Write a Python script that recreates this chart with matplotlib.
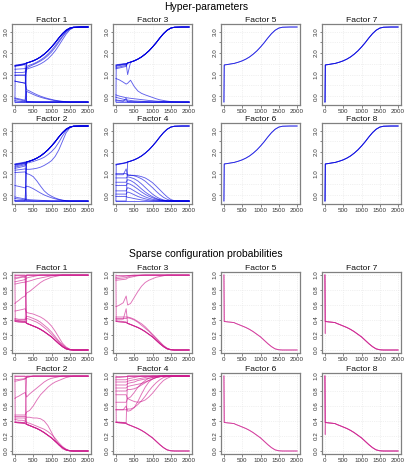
import numpy as np
import matplotlib
matplotlib.use('Agg')
import matplotlib.pyplot as plt
from matplotlib.ticker import FuncFormatter

plt.rcParams['font.family'] = ['Liberation Sans', 'DejaVu Sans']

# iteration grid shared by every trajectory
X = [0, 8, 15, 100, 200, 280, 320, 400, 500, 600, 700, 800, 900, 1000,
     1100, 1200, 1300, 1400, 1500, 1600, 1800, 2000]

# common tails (x = 320 ... 2000)
HT = [1.54, 1.58, 1.64, 1.72, 1.82, 1.95, 2.10, 2.28, 2.48, 2.70, 2.90, 3.06, 3.16, 3.20, 3.21, 3.21]
BT = [-0.27] * 16
PT = [0.355, 0.34, 0.32, 0.30, 0.275, 0.245, 0.21, 0.175, 0.13, 0.085, 0.045, 0.015, 0.003, 0.0, 0.0, 0.0]
TT = [1.0] * 16

# ---- hyper-parameters ----
hyp_f1 = [
    [1.42, 1.42, 1.43, 1.45, 1.48, 1.51] + HT,
    [1.40, 1.40, 1.41, 1.43, 1.46, 1.49] + HT,
    [1.43, 1.43, 1.44, 1.46, 1.49, 1.52] + HT,
    [1.38, 1.38, 1.39, 1.41, 1.44, 1.47] + BT,
    [-0.27, 1.40, 1.41, 1.43, 1.46, 1.50] + HT,
    [0.96, 0.96, 0.96, 0.97, 0.98, 0.98] + [1.25, 1.30, 1.36, 1.42, 1.50, 1.60, 1.73, 1.90, 2.10, 2.35, 2.62, 2.88, 3.08, 3.18, 3.21, 3.21],
    [1.10, 1.10, 1.10, 1.10, 1.10, 1.12] + [1.38, 1.44, 1.50, 1.58, 1.68, 1.80, 1.95, 2.13, 2.34, 2.57, 2.80, 3.00, 3.13, 3.19, 3.21, 3.21],
    [1.25, 1.25, 1.25, 1.26, 1.27, 1.28] + [1.30, 1.38, 1.46, 1.54, 1.63, 1.74, 1.88, 2.05, 2.26, 2.50, 2.75, 2.97, 3.12, 3.19, 3.21, 3.21],
    [0.70, 0.70, 0.69, 0.66, 0.63, 0.60] + [0.30, 0.24, 0.15, 0.07, 0.0, -0.06, -0.11, -0.15, -0.19, -0.22, -0.24, -0.26, -0.27, -0.27, -0.27, -0.27],
    [-0.08, -0.08, -0.09, -0.12, -0.16, -0.19] + [0.22, 0.16, 0.08, 0.01, -0.05, -0.10, -0.14, -0.18, -0.21, -0.23, -0.25, -0.26, -0.27, -0.27, -0.27, -0.27],
    [-0.12, -0.12, -0.13, -0.16, -0.20, -0.22] + [-0.24, -0.25, -0.26] + [-0.27] * 13,
    [-0.20, -0.20, -0.21, -0.23, -0.25, -0.26] + BT,
    [-0.27] * 6 + HT,
    [-0.27] * 6 + BT,
    [0.98, 0.98, 0.98, 0.98, 0.97, 0.97] + BT,
    [0.70, 0.70, 0.69, 0.66, 0.63, 0.60] + HT,
]

hyp_f3 = [
    [1.43, 1.43, 1.44, 1.46, 1.49, 1.51] + HT,
    [1.38, 1.38, 1.39, 1.42, 1.45, 1.48] + HT,
    [1.32, 1.32, 1.33, 1.36, 1.40, 1.43] + HT,
    [1.27, 1.27, 1.28, 1.31, 1.35, 1.38] + HT,
    [1.45, 1.45, 1.46, 1.48, 1.50, 1.50] + [1.0] + HT[1:],
    [0.82, 0.82, 0.81, 0.75, 0.65, 0.56] + [0.60, 0.74, 0.45, 0.24, 0.13, 0.06, 0.0, -0.06, -0.12, -0.17, -0.20, -0.23, -0.25, -0.26, -0.27, -0.27],
    [0.06, 0.06, 0.05, 0.0, -0.04, -0.07] + [-0.08, -0.10, -0.12, -0.14, -0.16, -0.18, -0.20, -0.21, -0.23, -0.24, -0.25, -0.26, -0.27, -0.27, -0.27, -0.27],
    [-0.05, -0.05, -0.06, -0.10, -0.14, -0.17] + [-0.18, -0.20, -0.22, -0.23, -0.24, -0.25, -0.26] + [-0.27] * 9,
    [-0.17, -0.17, -0.18, -0.20, -0.22, -0.23] + [-0.24, -0.25, -0.26] + [-0.27] * 13,
    [-0.27] * 6 + BT,
    [-0.22, -0.22, -0.22, -0.23, -0.24, -0.10] + BT,
    [-0.27, 1.42, 1.43, 1.45, 1.48, 1.50] + HT,
]

hyp_f2 = [
    [1.45, 1.45, 1.46, 1.48, 1.51, 1.54] + HT,
    [1.42, 1.42, 1.43, 1.46, 1.49, 1.52] + HT,
    [1.35, 1.35, 1.36, 1.39, 1.43, 1.47] + HT,
    [1.24, 1.24, 1.25, 1.28, 1.32, 1.36] + HT,
    [1.16, 1.16, 1.16, 1.18, 1.20, 1.22] + [1.20, 1.20, 1.22, 1.25, 1.30, 1.38, 1.48, 1.60, 1.80, 2.10, 2.50, 2.90, 3.12, 3.20, 3.21, 3.21],
    [1.30, 1.30, 1.31, 1.34, 1.38, 1.42] + [1.48, 1.52, 1.56, 1.62, 1.68, 1.76, 1.88, 2.02, 2.20, 2.45, 2.75, 3.00, 3.14, 3.20, 3.21, 3.21],
    [1.05, 1.05, 1.05, 1.06, 1.07, 1.08] + [1.0, 0.96, 0.86, 0.66, 0.42, 0.20, 0.05, -0.05, -0.13, -0.19, -0.23, -0.26, -0.27, -0.27, -0.27, -0.27],
    [0.45, 0.45, 0.44, 0.41, 0.37, 0.34] + [0.42, 0.38, 0.30, 0.20, 0.10, 0.01, -0.06, -0.12, -0.17, -0.21, -0.24, -0.26, -0.27, -0.27, -0.27, -0.27],
    [-0.08, -0.08, -0.09, -0.12, -0.15, -0.18] + [-0.19, -0.21, -0.22, -0.23, -0.24, -0.25, -0.26] + [-0.27] * 9,
    [-0.15, -0.15, -0.16, -0.18, -0.20, -0.22] + [-0.24, -0.25, -0.26] + [-0.27] * 13,
    [-0.27] * 6 + HT,
    [-0.25] * 6 + HT,
    [-0.27] * 6 + BT,
    [1.42, 1.42, 1.43, 1.45, 1.48, 1.50] + BT,
    [-0.27, 1.40, 1.41, 1.43, 1.46, 1.50] + HT,
]

hyp_f4 = [
    [1.43, 1.43, 1.44, 1.46, 1.49, 1.52] + HT,
    [1.40, 1.40, 1.41, 1.44, 1.47, 1.50] + HT,
    [-0.27, 1.42, 1.43, 1.45, 1.48, 1.51] + HT,
    [1.0] * 6 + [0.95, 0.93, 0.90, 0.84, 0.76, 0.65, 0.50, 0.35, 0.18, 0.03, -0.10, -0.19, -0.25, -0.27, -0.27, -0.27],
    [0.80] * 6 + [0.85, 0.82, 0.76, 0.66, 0.52, 0.36, 0.20, 0.05, -0.07, -0.16, -0.22, -0.26, -0.27, -0.27, -0.27, -0.27],
    [0.60] * 6 + [0.72, 0.68, 0.58, 0.44, 0.29, 0.15, 0.03, -0.07, -0.15, -0.21, -0.25, -0.27, -0.27, -0.27, -0.27, -0.27],
    [0.45] * 6 + [0.55, 0.50, 0.40, 0.28, 0.15, 0.04, -0.05, -0.12, -0.18, -0.22, -0.25, -0.27, -0.27, -0.27, -0.27, -0.27],
    [0.20] * 6 + [0.35, 0.30, 0.20, 0.10, 0.0, -0.08, -0.14, -0.19, -0.22, -0.25, -0.26, -0.27, -0.27, -0.27, -0.27, -0.27],
    [0.05] * 6 + [0.15, 0.10, 0.02, -0.06, -0.12, -0.17, -0.21, -0.24, -0.26] + [-0.27] * 7,
    [-0.06] * 6 + [-0.10, -0.12, -0.16, -0.19, -0.22, -0.24, -0.26] + [-0.27] * 9,
    [-0.27] * 6 + BT,
    [0.95, 0.95, 0.95, 0.95, 0.95, 1.22] + [0.90, 0.92, 0.92, 0.90, 0.86, 0.80, 0.70, 0.58, 0.42, 0.25, 0.08, -0.08, -0.20, -0.26, -0.27, -0.27],
    [-0.27] * 6 + HT,
]

hyp_f5 = [[-0.27, 1.44, 1.45, 1.47, 1.50, 1.52] + HT] * 2
hyp_f6 = [[-0.27, 1.44, 1.45, 1.47, 1.50, 1.52] + HT] * 2
hyp_f7 = [[-0.27, 1.44, 1.45, 1.47, 1.50, 1.52] + HT] * 2 + [[-0.27, -0.27, 1.45, 1.47, 1.50, 1.52] + HT]
hyp_f8 = [[-0.27, 1.44, 1.45, 1.47, 1.50, 1.52] + HT] * 2 + [[-0.27, -0.27, 1.45, 1.47, 1.50, 1.52] + HT]

# ---- sparse configuration probabilities ----
prob_f1 = [
    [0.40, 0.40, 0.40, 0.39, 0.385, 0.38] + PT,
    [0.39, 0.39, 0.39, 0.385, 0.38, 0.375] + PT,
    [0.38, 0.38, 0.38, 0.37, 0.37, 0.37] + TT,
    [1.0] * 6 + TT,
    [1.0, 0.38, 0.38, 0.38, 0.37, 0.37] + PT,
    [0.95, 0.95, 0.95, 0.96, 0.97, 0.97] + TT,
    [0.91, 0.91, 0.91, 0.92, 0.93, 0.94] + [0.96, 0.97, 0.98, 0.99] + [1.0] * 12,
    [0.88, 0.88, 0.88, 0.89, 0.90, 0.905] + [0.91, 0.92, 0.935, 0.95, 0.96, 0.97, 0.98, 0.99, 0.995] + [1.0] * 7,
    [0.62, 0.62, 0.63, 0.66, 0.70, 0.72] + [0.76, 0.78, 0.82, 0.86, 0.90, 0.93, 0.95, 0.97, 0.98, 0.99] + [1.0] * 6,
    [0.52, 0.52, 0.52, 0.53, 0.54, 0.55] + [0.50, 0.49, 0.48, 0.46, 0.44, 0.41, 0.37, 0.32, 0.25, 0.17, 0.09, 0.04, 0.01, 0.0, 0.0, 0.0],
    [0.42, 0.42, 0.42, 0.41, 0.41, 0.41] + [0.45, 0.44, 0.42, 0.40, 0.37, 0.33, 0.29, 0.24, 0.18, 0.12, 0.07, 0.03, 0.01, 0.0, 0.0, 0.0],
    [0.40] * 6 + [0.42, 0.41, 0.39, 0.37, 0.34, 0.30, 0.26, 0.21, 0.16, 0.11, 0.06, 0.025, 0.005, 0.0, 0.0, 0.0],
    [1.0] * 6 + PT,
    [0.97, 0.97, 0.97, 0.97, 0.98, 0.98] + PT,
]

prob_f3 = [
    [1.0] * 6 + TT,
    [0.97, 0.97, 0.97, 0.975, 0.98, 0.985] + [0.99, 0.995] + [1.0] * 14,
    [0.95, 0.95, 0.95, 0.955, 0.96, 0.965] + [0.975, 0.985, 0.99, 0.995] + [1.0] * 12,
    [0.93, 0.93, 0.93, 0.935, 0.94, 0.945] + [0.96, 0.97, 0.98, 0.99, 0.995] + [1.0] * 11,
    [0.58, 0.58, 0.58, 0.60, 0.63, 0.72] + [0.60, 0.62, 0.70, 0.78, 0.85, 0.90, 0.93, 0.95, 0.97, 0.98, 0.99, 1.0, 1.0, 1.0, 1.0, 1.0],
    [0.38, 0.38, 0.38, 0.375, 0.37, 0.365] + PT,
    [0.39, 0.39, 0.39, 0.385, 0.38, 0.375] + PT,
    [0.42] * 6 + [0.43, 0.42, 0.40, 0.37, 0.33, 0.29, 0.25, 0.20, 0.15, 0.10, 0.055, 0.02, 0.005, 0.0, 0.0, 0.0],
    [0.44] * 6 + [0.44, 0.43, 0.41, 0.38, 0.35, 0.31, 0.26, 0.21, 0.16, 0.11, 0.06, 0.025, 0.006, 0.0, 0.0, 0.0],
    [0.41, 0.41, 0.41, 0.41, 0.41, 0.55] + PT,
    [1.0, 0.38, 0.38, 0.375, 0.37, 0.365] + PT,
]

prob_f2 = [
    [1.0] * 6 + TT,
    [0.93, 0.93, 0.93, 0.94, 0.95, 0.96] + [0.98, 0.99] + [1.0] * 14,
    [0.95, 0.95, 0.95, 0.955, 0.96, 0.965] + [0.985, 0.99] + [1.0] * 14,
    [0.70, 0.70, 0.71, 0.73, 0.76, 0.78] + [0.72, 0.76, 0.80, 0.84, 0.88, 0.92, 0.95, 0.97, 0.98, 0.99] + [1.0] * 6,
    [0.48] * 6 + [0.52, 0.54, 0.60, 0.68, 0.75, 0.80, 0.85, 0.89, 0.92, 0.94, 0.96, 0.98, 0.99, 1.0, 1.0, 1.0],
    [0.46] * 6 + [0.45, 0.45, 0.44, 0.44, 0.43, 0.40, 0.34, 0.25, 0.15, 0.08, 0.03, 0.01, 0.0, 0.0, 0.0, 0.0],
    [0.44] * 6 + PT,
    [0.42, 0.42, 0.42, 0.41, 0.41, 0.40] + [0.38, 0.37, 0.35, 0.33, 0.31, 0.29, 0.26, 0.22, 0.17, 0.11, 0.06, 0.025, 0.005, 0.0, 0.0, 0.0],
    [0.38, 0.38, 0.38, 0.375, 0.37, 0.365] + PT,
    [0.39, 0.39, 0.39, 0.385, 0.38, 0.375] + PT,
    [0.38] * 6 + TT,
    [1.0] * 6 + PT,
    [1.0, 0.38, 0.38, 0.375, 0.37, 0.365] + PT,
]

prob_f4 = [
    [1.0] * 6 + TT,
    [0.98, 0.98, 0.98, 0.98, 0.985, 0.99] + TT,
    [0.95] * 6 + [0.96, 0.97, 0.98, 0.99] + [1.0] * 12,
    [0.92] * 6 + [0.93, 0.94, 0.95, 0.96, 0.97, 0.98, 0.99] + [1.0] * 9,
    [0.88] * 6 + [0.90, 0.91, 0.92, 0.94, 0.95, 0.96, 0.97, 0.98, 0.99] + [1.0] * 7,
    [0.84] * 6 + [0.86, 0.87, 0.88, 0.89, 0.90, 0.92, 0.94, 0.96, 0.98, 0.99] + [1.0] * 6,
    [0.80] * 6 + [0.82, 0.82, 0.83, 0.85, 0.88, 0.91, 0.94, 0.96, 0.98, 0.99] + [1.0] * 6,
    [0.65] * 6 + [0.70, 0.68, 0.66, 0.65, 0.66, 0.68, 0.72, 0.77, 0.83, 0.89, 0.94, 0.97, 0.99, 1.0, 1.0, 1.0],
    [0.55] * 6 + [0.56, 0.56, 0.58, 0.62, 0.67, 0.73, 0.80, 0.86, 0.91, 0.95, 0.98, 0.99, 1.0, 1.0, 1.0, 1.0],
    [0.55, 0.55, 0.55, 0.55, 0.55, 0.60] + [0.53, 0.54, 0.58, 0.66, 0.76, 0.85, 0.92, 0.96, 0.98, 0.99] + [1.0] * 6,
    [0.75] * 6 + [0.70, 0.72, 0.78, 0.85, 0.90, 0.94, 0.97, 0.98, 0.99] + [1.0] * 7,
    [0.38, 0.38, 0.38, 0.375, 0.37, 0.365] + PT,
    [0.39, 0.39, 0.39, 0.385, 0.38, 0.375] + PT,
    [0.38] * 6 + TT,
    [1.0, 0.38, 0.38, 0.375, 0.37, 0.365] + PT,
]

prob_f5 = [[1.0, 0.38, 0.38, 0.375, 0.37, 0.365] + PT] * 2
prob_f6 = [[1.0, 0.38, 0.38, 0.375, 0.37, 0.365] + PT] * 2
prob_f7 = [[1.0, 0.38, 0.38, 0.375, 0.37, 0.365] + PT] * 2 + [[1.0, 0.22, 0.38, 0.375, 0.37, 0.365] + PT]
prob_f8 = [[1.0, 0.38, 0.38, 0.375, 0.37, 0.365] + PT] * 2 + [[1.0, 0.22, 0.38, 0.375, 0.37, 0.365] + PT]

hyp_panels = {1: hyp_f1, 2: hyp_f2, 3: hyp_f3, 4: hyp_f4, 5: hyp_f5, 6: hyp_f6, 7: hyp_f7, 8: hyp_f8}
prob_panels = {1: prob_f1, 2: prob_f2, 3: prob_f3, 4: prob_f4, 5: prob_f5, 6: prob_f6, 7: prob_f7, 8: prob_f8}

W, H = 407, 475
fig = plt.figure(figsize=(W / 100, H / 100), dpi=100)

col_left = [12, 113, 221, 322]
# factor layout: row 1 -> 1,3,5,7 ; row 2 -> 2,4,6,8
order = [[1, 3, 5, 7], [2, 4, 6, 8]]


def style_axes(ax, hyper):
    ax.set_xlim(-80, 2080)
    ax.set_xticks([0, 500, 1000, 1500, 2000])
    if hyper:
        ax.set_ylim(-0.41, 3.35)
        ax.set_yticks(np.arange(0, 3.01, 0.5))
        ax.yaxis.set_major_formatter(FuncFormatter(
            lambda v, p: '%.1f' % v if abs(v - round(v)) < 1e-6 else ''))
    else:
        ax.set_ylim(-0.04, 1.04)
        ax.set_yticks(np.arange(0, 1.01, 0.2))
        ax.yaxis.set_major_formatter(FuncFormatter(lambda v, p: '%.1f' % v))
    ax.tick_params(labelsize=4.5, length=1.8, width=0.5, color='#555555',
                   labelcolor='#333333', pad=0.8)
    for lbl in ax.get_yticklabels():
        lbl.set_rotation(90)
        lbl.set_va('center')
    for s in ax.spines.values():
        s.set_color('#808080')
        s.set_linewidth(0.9)
    ax.grid(True, color='#e4e4e4', ls=':', lw=0.5)
    ax.set_axisbelow(True)


def draw_block(panels, tops, hyper, color):
    for r, top in enumerate(tops):
        for c, f in enumerate(order[r]):
            ax = fig.add_axes([col_left[c] / W, 1 - (top + 81) / H, 79 / W, 81 / H])
            for ys in panels[f]:
                assert len(ys) == len(X)
                ax.plot(X, ys, color=color, lw=0.65, alpha=0.62)
            style_axes(ax, hyper)
            ax.set_title('Factor %d' % f, fontsize=6.1, pad=0.6, color='#111111')


draw_block(hyp_panels, [24, 123], True, '#0000e0')
draw_block(prob_panels, [272, 373], False, '#cc1a8c')

fig.text(206 / W, 1 - 7 / H, 'Hyper-parameters', ha='center', va='center', fontsize=7.5)
fig.text(206 / W, 1 - 254 / H, 'Sparse configuration probabilities', ha='center', va='center', fontsize=7.5)

fig.savefig('out.png', dpi=100)
